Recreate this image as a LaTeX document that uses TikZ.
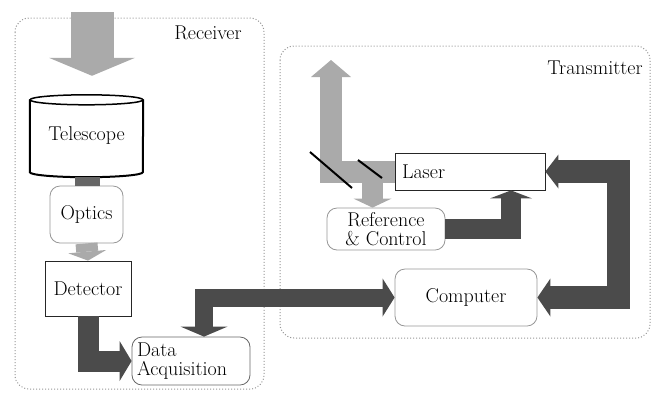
\documentclass[tikz,border=0pt]{standalone}
\usetikzlibrary{arrows.meta,positioning}
\definecolor{beamgray}{RGB}{170,170,170}
\definecolor{sigdark}{RGB}{75,75,75}
\definecolor{boxgray}{RGB}{150,150,150}

\begin{document}
\begin{tikzpicture}[x=1pt,y=-1pt,
	font=\fontsize{20}{19}\selectfont,
	outer/.style={draw=boxgray,dotted,line width=1pt,rounded corners=14pt},
	rbox/.style={draw=boxgray,line width=0.8pt,rounded corners=10pt,inner sep=4pt},
	sbox/.style={draw=black!85,line width=0.8pt,inner sep=4pt},
	beam/.style={beamgray,line width=#1},
	beam/.default=22pt,
	signal/.style={sigdark,line width=#1},
	signal/.default=21pt,
	btip/.tip={Triangle[width=38pt,length=9pt,line width=0pt]},
	stip/.tip={Triangle[width=40pt,length=12pt,line width=0pt]}]
	\useasboundingbox (0,0) rectangle (652,392);
	
	%receiver
	\draw[outer] (15,18) rectangle (264,389);
	\node (rec) at (208,33) {Receiver};
	%transmitter
	\draw[outer] (280,46) rectangle (650,338);
	\node (trans) at (595,68) {Transmitter};
	
	\node (tel) at (86.5,136) [minimum width=113pt,minimum height=72pt,inner sep=0pt] {\raisebox{-8pt}{Telescope}};
	\node[rbox,minimum width=73pt,minimum height=57pt] (optics) at (86.5,214.5) {Optics};
	\node[sbox,minimum width=86pt,minimum height=55pt] (det) at (88,288.5) {Detector};
	\node[rbox,minimum width=118pt,minimum height=48pt,text width=108pt,inner sep=5pt,align=left,draw=black!60] (daq) at (191,361) {Data\\Acquisition};
	\node[sbox,minimum width=150pt,minimum height=37pt,text width=136pt,inner sep=7pt,align=left] (laser) at (470,171.5) {Laser};
	\node[rbox,minimum width=118pt,minimum height=42pt,align=center] (refctl) at (386,229) {Reference\\\& Control};
	\node[rbox,minimum width=142pt,minimum height=57pt] (comp) at (466,297.5) {Computer};
	
	%telescope outline
	\draw[line width=2pt] (tel.north west) -- (tel.south west) arc[start angle=180,end angle=360,x radius=56.5pt,y radius=5pt] -- (tel.north east);
	\draw[line width=1.5pt] (tel.north) ellipse [x radius=56.5pt,y radius=5pt];
	
	%light in
	\coordinate (skyin) at (92,12);
	\draw[beam=43pt,-{Triangle[width=86pt,length=18pt,line width=0pt]},shorten >=24pt] (skyin) -- (skyin |- tel.north);
	\draw[black!60,line width=25pt] ([xshift=1pt,yshift=-5pt]tel.south) -- ([xshift=1pt]optics.north);
	\draw[beam,-btip] (optics.south) -- (det.north);
	
	%signals
	\draw[signal,-stip] (det.south) |- (daq.west);
	\draw[signal=18pt,{Triangle[width=38pt,length=12pt,line width=0pt]}-{Triangle[width=47pt,length=10pt,line width=0pt]}] (comp.west) -| ([xshift=13pt]daq.north);
	\draw[signal=23pt,{Triangle[width=34pt,length=13pt,line width=0pt]}-{Triangle[width=38pt,length=13pt,line width=0pt]}] (laser.east) -- ++(73,0) |- (comp.east);
	\draw[signal=20pt,-{Triangle[width=42pt,length=8pt,line width=0pt]}] (refctl.east) -| ([xshift=41pt]laser.south);
	
	%laser beam
	\coordinate (beamout) at (331,60);
	\coordinate (split) at (372.5,171.5);
	\draw[beam,-{Triangle[width=40pt,length=17pt,line width=0pt]}] (laser.west) -| (beamout);
	\draw[beam=21pt,-btip] (split) -- (split |- refctl.north);
	
	%mirrors
	\draw[line width=2pt] (310,152) -- (352,188);
	\draw[line width=2pt] (358,160) -- (382,178);
\end{tikzpicture}
\end{document}
